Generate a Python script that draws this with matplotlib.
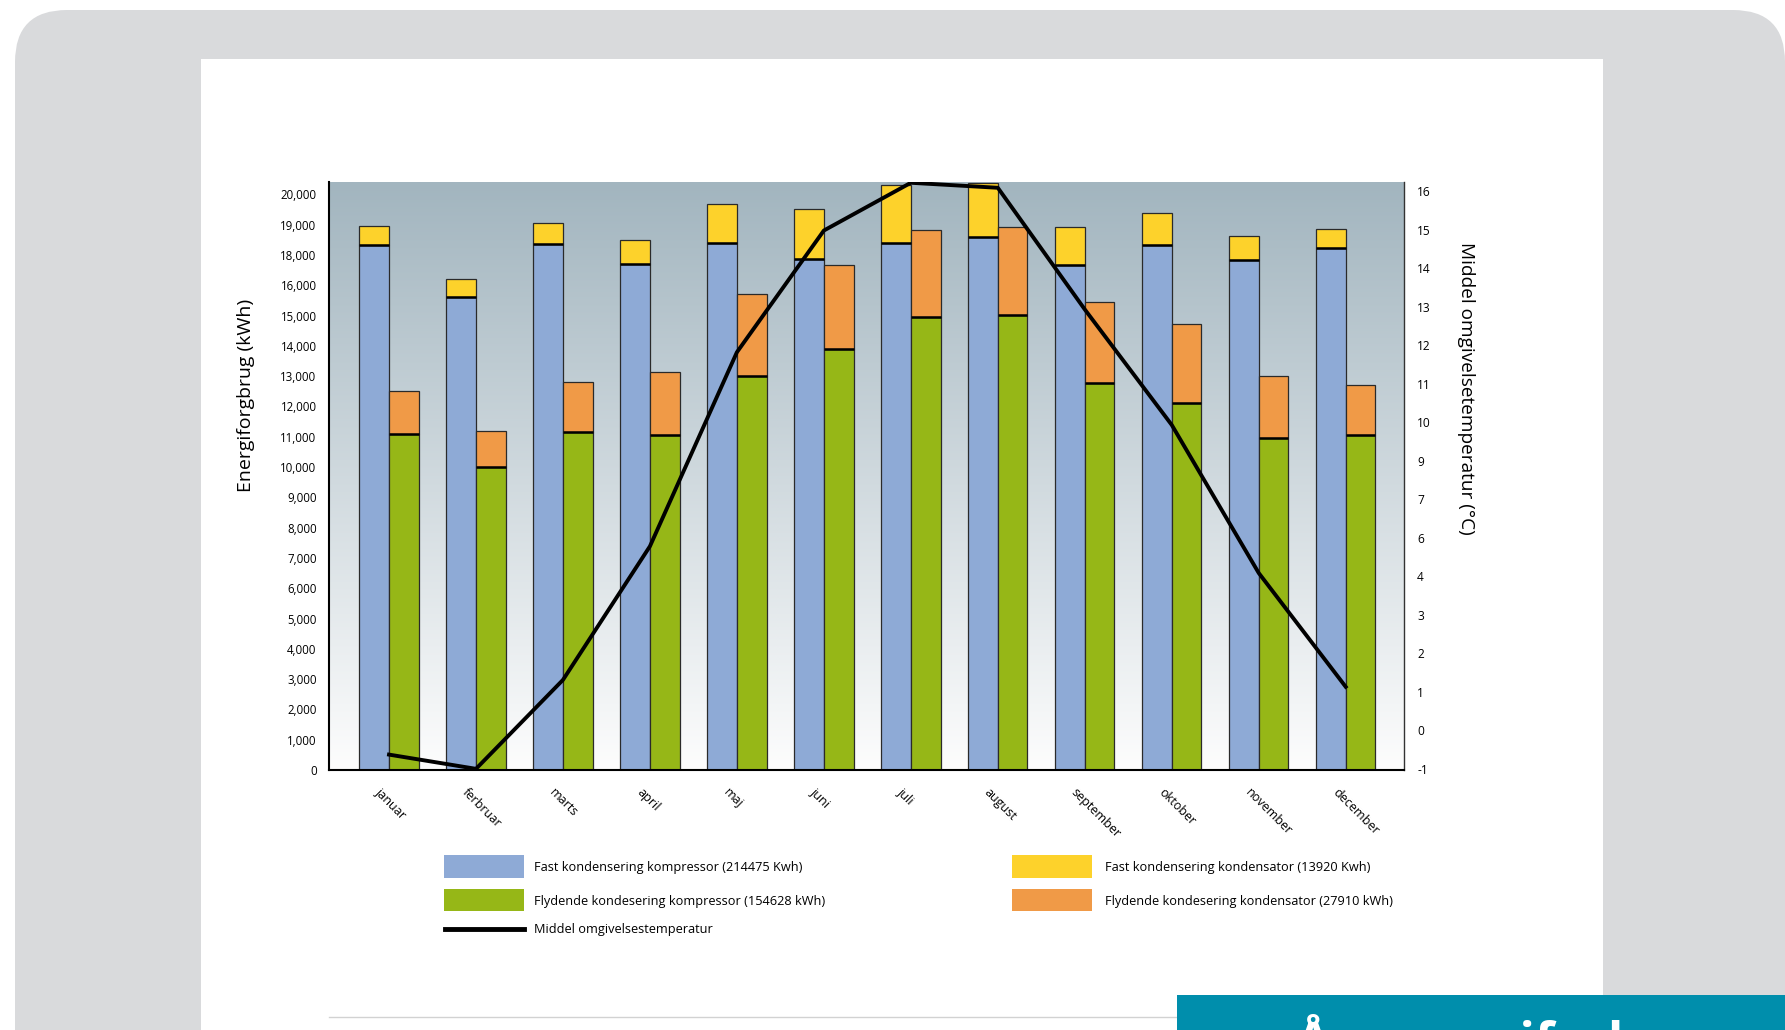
"""Monthly energy use, fixed vs floating condensing, with mean ambient temperature."""
import numpy as np
import matplotlib
matplotlib.use("Agg")
import matplotlib.pyplot as plt
from matplotlib.patches import Rectangle, FancyBboxPatch
from matplotlib.lines import Line2D
from matplotlib.transforms import IdentityTransform

plt.rcParams["font.family"] = ["Open Sans", "DejaVu Sans"]

months = ["januar", "ferbruar", "marts", "april", "maj", "juni", "juli",
          "august", "september", "oktober", "november", "december"]
fast_komp = [18320, 15630, 18370, 17420, 18410, 17740, 18410, 18590, 17360, 18320, 17640, 18220]
fast_kond = [650, 770, 690, 1060, 1270, 1770, 1890, 1790, 1560, 1070, 990, 650]
flyd_komp = [11100, 10010, 11150, 11050, 13010, 13900, 14970, 15010, 12780, 12130, 10970, 11050]
flyd_kond = [1410, 1170, 1660, 2080, 2690, 3440, 3850, 3900, 2660, 2600, 2040, 1650]
temp = [-0.63, -1.0, 1.31, 5.56, 11.82, 14.98, 16.22, 16.09, 12.93, 9.93, 4.17, 1.13]

# the source chart has evenly spaced ticks carrying uneven labels
kwh_ticks = [0, 1000, 2000, 3000, 4000, 5000, 6000, 7000, 8000, 9000, 10000,
             11000, 12000, 13000, 14000, 15000, 16000, 18000, 19000, 20000]
temp_ticks = [-1, 0, 1, 2, 3, 4, 6, 7, 9, 10, 11, 12, 13, 14, 15, 16]

leg_left = ["Fast kondensering kompressor (214475 Kwh)",
            "Flydende kondesering kompressor (154628 kWh)",
            "Middel omgivelsestemperatur"]
leg_right = ["Fast kondensering kondensator (13920 Kwh)",
             "Flydende kondesering kondensator (27910 kWh)"]

C_BLUE, C_YEL, C_GREEN, C_ORA = "#8eaad6", "#fdd22b", "#96b717", "#f09a47"

W, H = 1785, 1030


def even_scale(ticks):
    t = list(ticks)
    vals = np.array([2 * t[0] - t[1]] + t + [2 * t[-1] - t[-2]], float)
    pos = np.arange(len(vals), dtype=float) - 1
    fwd = lambda v: np.interp(v, vals, pos)
    inv = lambda p: np.interp(p, pos, vals)
    return fwd, inv


def fx(x):
    return x / W


def fy(y):
    return 1 - y / H


fig = plt.figure(figsize=(W / 100, H / 100), dpi=100)
fig.patch.set_facecolor("white")

# page background
fig.add_artist(FancyBboxPatch((15, -100), W - 15, H - 10 + 100,
                              boxstyle="round,pad=0,rounding_size=52",
                              transform=IdentityTransform(), fc="#d9dadc",
                              ec="none", zorder=-10))
fig.add_artist(Rectangle((201, 0), 1603 - 201, H - 59, transform=IdentityTransform(),
                         fc="white", ec="none", zorder=-9))

pos = [fx(329), fy(770), fx(1404) - fx(329), fy(182) - fy(770)]

bg = fig.add_axes(pos, zorder=-1)
grad = np.linspace(0, 1, 256)[:, None]
top = np.array([0xa2, 0xb5, 0xbf]) / 255
bot = np.array([0xfd, 0xfd, 0xfd]) / 255
img = top[None, None, :] * (1 - grad[:, :, None]) + bot[None, None, :] * grad[:, :, None]
bg.imshow(img, aspect="auto", extent=[0, 1, 0, 1])
bg.axis("off")

ax = fig.add_axes(pos)
ax.set_facecolor("none")
ax.set_yscale("function", functions=even_scale(kwh_ticks))
ax.set_ylim(0, 20410)
ax.set_xlim(-0.69, 11.67)

x = np.arange(len(months))
w = 0.341
ek = dict(edgecolor="#2a2a2a", linewidth=0.9, zorder=2)
ax.bar(x - w / 2, fast_komp, w, color=C_BLUE, **ek)
ax.bar(x - w / 2, fast_kond, w, bottom=fast_komp, color=C_YEL, **ek)
ax.bar(x + w / 2, flyd_komp, w, color=C_GREEN, **ek)
ax.bar(x + w / 2, flyd_kond, w, bottom=flyd_komp, color=C_ORA, **ek)
ax.hlines(fast_komp, x - w, x, color="black", lw=1.8, zorder=3)
ax.hlines(flyd_komp, x, x + w, color="black", lw=1.8, zorder=3)

ax.set_yticks(kwh_ticks)
ax.set_yticklabels([f"{v:,}" for v in kwh_ticks])
ax.set_xticks([])
ax.tick_params(axis="y", length=0, pad=9, labelsize=8.3)
ax.spines["top"].set_visible(False)
ax.spines["left"].set_linewidth(1.5)
ax.spines["bottom"].set_linewidth(1.5)
ax.spines["right"].set_linewidth(1.0)
ax.spines["right"].set_color("#333333")

for i, m in enumerate(months):
    ax.text(i - 0.184, -0.027, m, transform=ax.get_xaxis_transform(),
            rotation=-45, ha="left", va="top", fontsize=9)

ax2 = ax.twinx()
ax2.set_yscale("function", functions=even_scale(temp_ticks))
ax2.set_ylim(-1.03, 16.24)
ax2.plot(x, temp, color="black", lw=2.8, zorder=5, solid_joinstyle="round")
ax2.set_yticks(temp_ticks)
ax2.set_yticklabels([str(t) for t in temp_ticks])
ax2.tick_params(axis="y", length=0, pad=9.5, labelsize=8.6)
for s in ax2.spines.values():
    s.set_visible(False)

fig.text(fx(246), fy(395), "Energiforgbrug (kWh)", rotation=90,
         ha="center", va="center", fontsize=14)
fig.text(fx(1466), fy(388), "Middel omgivelsetemperatur (°C)", rotation=-90,
         ha="center", va="center", fontsize=13.7)

# legend, laid out by hand like the source
def swatch(x0, y0, x1, y1, c):
    fig.add_artist(Rectangle((fx(x0), fy(y1)), fx(x1) - fx(x0), fy(y0) - fy(y1),
                             transform=fig.transFigure, fc=c, ec="none"))

swatch(444, 855, 524, 878, C_BLUE)
swatch(444, 889, 524, 911, C_GREEN)
swatch(1012, 855, 1092, 878, C_YEL)
swatch(1012, 889, 1092, 911, C_ORA)
fig.add_artist(Line2D([fx(445), fx(524)], [fy(929), fy(929)], color="black", lw=3.5,
                      transform=fig.transFigure))
for txt, yy in zip(leg_left, [867, 901, 929]):
    fig.text(fx(534), fy(yy), txt, ha="left", va="center", fontsize=9.2)
for txt, yy in zip(leg_right, [867, 901]):
    fig.text(fx(1105), fy(yy), txt, ha="left", va="center", fontsize=9.2)

# page footer pieces; the heading runs off the bottom edge as in the source
fig.add_artist(Line2D([fx(329), fx(1177)], [fy(1017), fy(1017)], color="#d2d2d2", lw=1,
                      transform=fig.transFigure))
fig.add_artist(Rectangle((1177, -50), W - 1177, H - 995 + 50, transform=IdentityTransform(),
                         fc="#008eac", ec="none", zorder=5))
fig.text(fx(1295), fy(1058), "Årsenergiforbrug", color="white", fontweight="bold",
         fontsize=36, ha="left", va="baseline", zorder=6)

fig.savefig("out.png", dpi=100)
